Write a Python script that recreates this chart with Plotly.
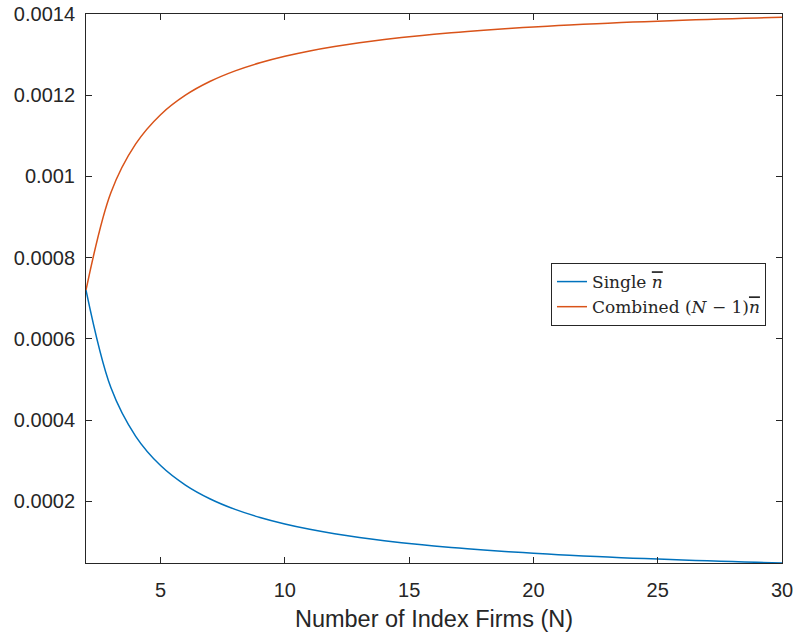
import plotly.graph_objects as go

N = list(range(2, 31))
single = [0.00072, 0.00048, 0.00036, 0.000288, 0.00024, 0.0002057, 0.00018, 0.00016,
          0.000144, 0.0001309, 0.00012, 0.0001108, 0.0001029, 0.000096, 0.00009, 0.0000847,
          0.00008, 0.0000758, 0.000072, 0.0000686, 0.0000655, 0.0000626, 0.00006,
          0.0000576, 0.0000554, 0.0000533, 0.0000514, 0.0000497, 0.000048]
combined = [0.00072, 0.00096, 0.00108, 0.001152, 0.0012, 0.0012343, 0.00126, 0.00128,
            0.001296, 0.0013091, 0.00132, 0.0013292, 0.0013371, 0.001344, 0.00135, 0.0013553,
            0.00136, 0.0013642, 0.001368, 0.0013714, 0.0013745, 0.0013774, 0.00138,
            0.0013824, 0.0013846, 0.0013867, 0.0013886, 0.0013903, 0.001392]

xticks = [5, 10, 15, 20, 25, 30]
yticks = [0.0002, 0.0004, 0.0006, 0.0008, 0.001, 0.0012, 0.0014]
yticklabels = ["0.0002", "0.0004", "0.0006", "0.0008", "0.001", "0.0012", "0.0014"]

nbar = '<span style="text-decoration:overline"><i>n</i></span>'

fig = go.Figure()
fig.add_trace(go.Scatter(x=N, y=single, mode="lines",
                         line=dict(color="#0072BD", width=1.5, shape="spline", smoothing=1),
                         name="Single " + nbar))
fig.add_trace(go.Scatter(x=N, y=combined, mode="lines",
                         line=dict(color="#D95319", width=1.5, shape="spline", smoothing=1),
                         name="Combined (<i>N</i> \u2212 1)" + nbar))

axis_common = dict(showline=True, linecolor="#262626", linewidth=1, mirror="allticks",
                   ticks="inside", ticklen=6, tickcolor="#262626", showgrid=False, zeroline=False,
                   automargin=False,
                   tickfont=dict(family="Liberation Sans, Arial", size=20, color="#262626"))

fig.update_layout(
    width=796, height=632,
    margin=dict(l=86, r=14, t=14, b=69),
    paper_bgcolor="white", plot_bgcolor="white",
    xaxis=dict(range=[2, 30], tickvals=xticks, ticklabelstandoff=9,
               title=dict(text="Number of Index Firms (N)", standoff=11,
                          font=dict(family="Liberation Sans, Arial", size=23.5, color="#262626")),
               **axis_common),
    yaxis=dict(range=[0.000048, 0.0014], tickvals=yticks, ticktext=yticklabels,
               ticklabelstandoff=6, **axis_common),
    legend=dict(x=0.977, y=0.5464, xanchor="right", yanchor="top",
                bgcolor="white", bordercolor="#262626", borderwidth=1,
                font=dict(family="DejaVu Serif", size=17, color="#262626"),
                tracegroupgap=0),
    showlegend=True,
)

fig.write_html("out.html")
